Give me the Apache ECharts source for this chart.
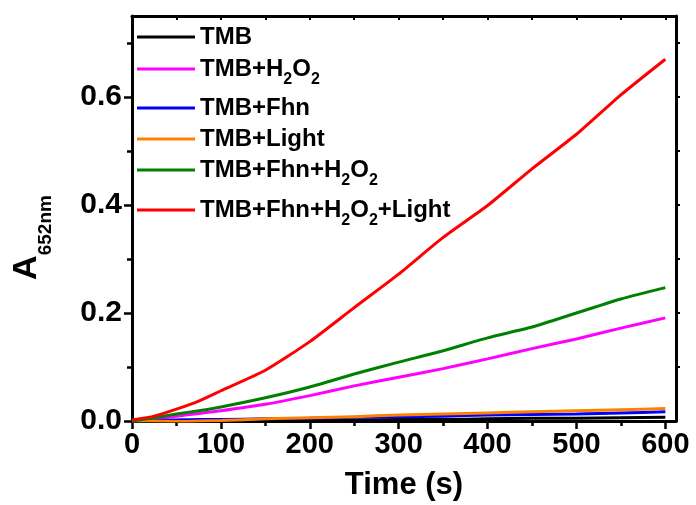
<!DOCTYPE html>
<html>
<head>
<meta charset="utf-8">
<script src="https://cdn.jsdelivr.net/npm/echarts@6/dist/echarts.min.js"></script>
<style>
  html, body { margin: 0; padding: 0; background: #fff; }
  #chart { width: 696px; height: 505px; }
</style>
</head>
<body>
<div id="chart"></div>
<script>
// time points (s)
var times = [0, 25, 50, 75, 100, 150, 200, 250, 300, 350, 400, 450, 500, 550, 600];

// absorbance at 652 nm
var tmb = [0, 0, 0, 0, 0.001, 0.001, 0.002, 0.002, 0.003, 0.003, 0.004, 0.005, 0.005, 0.006, 0.007];
var tmbH2O2 = [0, 0.004, 0.009, 0.014, 0.019, 0.031, 0.047, 0.065, 0.081, 0.097, 0.115, 0.134, 0.152, 0.172, 0.191];
var tmbFhn = [0, 0.001, 0.002, 0.003, 0.003, 0.004, 0.005, 0.007, 0.008, 0.009, 0.011, 0.012, 0.013, 0.015, 0.017];
var tmbLight = [0, 0, -0.001, 0, 0.001, 0.004, 0.006, 0.008, 0.011, 0.013, 0.015, 0.017, 0.019, 0.021, 0.023];
var tmbFhnH2O2 = [0, 0.006, 0.013, 0.019, 0.026, 0.043, 0.063, 0.087, 0.109, 0.130, 0.154, 0.174, 0.200, 0.226, 0.247];
var tmbFhnH2O2Light = [0.002, 0.009, 0.022, 0.037, 0.056, 0.094, 0.147, 0.210, 0.272, 0.340, 0.399, 0.467, 0.531, 0.604, 0.670];

var seriesNames = ['TMB', 'TMB+H2O2', 'TMB+Fhn', 'TMB+Light', 'TMB+Fhn+H2O2', 'TMB+Fhn+H2O2+Light'];
var legendLabels = ['TMB', 'TMB+H{s|2}O{s|2}', 'TMB+Fhn', 'TMB+Light', 'TMB+Fhn+H{s|2}O{s|2}', 'TMB+Fhn+H{s|2}O{s|2}+Light'];
var seriesValues = [tmb, tmbH2O2, tmbFhn, tmbLight, tmbFhnH2O2, tmbFhnH2O2Light];
var colors = ['#000000', '#ff00ff', '#0000ff', '#ff8000', '#008000', '#ff0000'];

// ticks
var xMajor = [0, 100, 200, 300, 400, 500, 600];
var xMinor = [50, 150, 250, 350, 450, 550];
var xTop = [50, 100, 150, 200, 250, 300, 350, 400, 450, 500, 550, 600];
var yMajor = [0, 0.2, 0.4, 0.6];
var yMinor = [0.1, 0.3, 0.5, 0.7];
var yRight = [0.1, 0.2, 0.3, 0.4, 0.5, 0.6, 0.7];

// legend row heights (rows with subscripts are taller)
var legendRowHeights = [22, 40, 38, 24, 38, 42];

var FONT = 'Liberation Sans, Arial, sans-serif';
var chart = echarts.init(document.getElementById('chart'));

function pairs(vals) {
  return times.map(function (t, i) { return [t, vals[i]]; });
}

var axisLine = { show: true, onZero: false, lineStyle: { color: '#000', width: 3 } };

var option = {
  animation: false,
  backgroundColor: '#fff',
  color: colors,
  grid: { left: 132, right: 20, top: 16, bottom: 84, outerBoundsMode: 'none' },
  legend: {
    orient: 'vertical',
    left: 137,
    top: 25,
    padding: 0,
    itemGap: 0,
    itemWidth: 58,
    itemHeight: 3,
    icon: 'rect',
    selectedMode: false,
    data: seriesNames.map(function (name, i) {
      return { name: name, textStyle: { lineHeight: legendRowHeights[i] } };
    }),
    formatter: function (name) {
      return legendLabels[seriesNames.indexOf(name)];
    },
    textStyle: {
      fontFamily: FONT,
      fontSize: 24,
      fontWeight: 'bold',
      color: '#000',
      rich: {
        s: { fontFamily: FONT, fontSize: 16, fontWeight: 'bold', color: '#000', lineHeight: 16, padding: [22, 0, 0, 0] }
      }
    }
  },
  xAxis: [
    {
      type: 'value', position: 'bottom', min: 0, max: 612,
      axisLine: axisLine,
      splitLine: { show: false },
      axisTick: { show: true, length: 8, customValues: xMajor, lineStyle: { color: '#000', width: 2.5 } },
      axisLabel: { customValues: xMajor, margin: 9, color: '#000', fontFamily: FONT, fontSize: 29, fontWeight: 'bold' },
      name: 'Time (s)', nameLocation: 'middle', nameGap: 49,
      nameTextStyle: { color: '#000', fontFamily: FONT, fontSize: 31, fontWeight: 'bold' }
    },
    {
      type: 'value', position: 'bottom', min: 0, max: 612,
      axisLine: { show: false },
      splitLine: { show: false },
      axisTick: { show: true, length: 5, customValues: xMinor, lineStyle: { color: '#000', width: 2.5 } },
      axisLabel: { show: false }
    },
    {
      type: 'value', position: 'top', min: 0, max: 612,
      axisLine: axisLine,
      splitLine: { show: false },
      axisTick: { show: true, inside: true, length: 4, customValues: xTop, lineStyle: { color: '#000', width: 2 } },
      axisLabel: { show: false }
    }
  ],
  yAxis: [
    {
      type: 'value', position: 'left', min: 0, max: 0.75,
      axisLine: axisLine,
      splitLine: { show: false },
      axisTick: { show: true, length: 8, customValues: yMajor, lineStyle: { color: '#000', width: 2.5 } },
      axisLabel: {
        customValues: yMajor, margin: 10, color: '#000', fontFamily: FONT, fontSize: 30, fontWeight: 'bold',
        formatter: function (v) { return v.toFixed(1); }
      },
      name: '{a|A}{s|652nm}', nameLocation: 'middle', nameRotate: 90, nameGap: 88,
      nameTextStyle: {
        color: '#000',
        padding: [0, 38, 0, 0],
        rich: {
          a: { fontFamily: FONT, fontSize: 34, fontWeight: 'bold', color: '#000', lineHeight: 34 },
          s: { fontFamily: FONT, fontSize: 19, fontWeight: 'bold', color: '#000', lineHeight: 19, padding: [38, 0, 0, 0] }
        }
      }
    },
    {
      type: 'value', position: 'left', min: 0, max: 0.75,
      axisLine: { show: false },
      splitLine: { show: false },
      axisTick: { show: true, length: 5, customValues: yMinor, lineStyle: { color: '#000', width: 2.5 } },
      axisLabel: { show: false }
    },
    {
      type: 'value', position: 'right', min: 0, max: 0.75,
      axisLine: axisLine,
      splitLine: { show: false },
      axisTick: { show: true, length: 4, customValues: yRight, lineStyle: { color: '#000', width: 2 } },
      axisLabel: { show: false }
    }
  ],
  series: seriesNames.map(function (name, i) {
    return {
      name: name,
      type: 'line',
      xAxisIndex: 0,
      yAxisIndex: 0,
      data: pairs(seriesValues[i]),
      showSymbol: false,
      smooth: 0.2,
      lineStyle: { color: colors[i], width: 3 },
      itemStyle: { color: colors[i] }
    };
  })
};

chart.setOption(option);
</script>
</body>
</html>
